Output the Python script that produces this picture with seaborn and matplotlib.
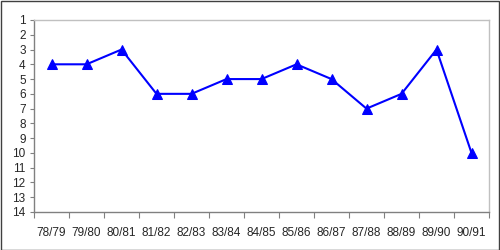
import matplotlib
matplotlib.use("Agg")
import matplotlib.pyplot as plt
import seaborn as sns
import pandas as pd
import numpy as np

seasons = ["78/79", "79/80", "80/81", "81/82", "82/83", "83/84", "84/85",
           "85/86", "86/87", "87/88", "88/89", "89/90", "90/91"]
positions = [4, 4, 3, 6, 6, 5, 5, 4, 5, 7, 6, 3, 10]
y_ticks = list(range(1, 15))

sns.set_theme(style="white")
plt.rcParams['font.family'] = ['Liberation Sans', 'DejaVu Sans']

df = pd.DataFrame({"idx": np.arange(len(seasons)), "pos": positions})

fig = plt.figure(figsize=(5, 2.5), dpi=100)
ax = fig.add_axes([34/500, 1 - 212/250, (489-34)/500, (212-20)/250])

sns.lineplot(data=df, x="idx", y="pos", ax=ax, color="#0000FF", linewidth=1.5,
             marker="^", markersize=6.5, markeredgecolor="#0000FF",
             markerfacecolor="#0000FF")

ax.set_xlim(-0.5, len(seasons) - 0.5)
ax.set_ylim(14, 1)
ax.set_yticks(y_ticks)
ax.set_yticklabels([str(t) for t in y_ticks], fontsize=8.5)
ax.set_xticks(np.arange(len(seasons)))
ax.set_xticklabels(seasons, fontsize=8.5)
ax.set_xticks(np.arange(len(seasons) + 1) - 0.5, minor=True)
ax.tick_params(axis="x", which="major", length=0, pad=11)
ax.tick_params(axis="x", which="minor", length=4, width=0.8, color="#808080", bottom=True)
ax.tick_params(axis="y", which="major", length=3, width=0.8, color="#808080", left=True, pad=3)
ax.set_xlabel("")
ax.set_ylabel("")

for side in ["left", "bottom"]:
    ax.spines[side].set_color("#808080")
    ax.spines[side].set_linewidth(1)
for side in ["top", "right"]:
    ax.spines[side].set_color("#c0c0c0")
    ax.spines[side].set_linewidth(1)
    ax.spines[side].set_visible(True)

fig.patches.append(plt.Rectangle((0.001, 0.002), 0.997, 0.995, transform=fig.transFigure,
                                 fill=False, edgecolor="#404040", linewidth=1))

fig.savefig("out.png", dpi=100)
